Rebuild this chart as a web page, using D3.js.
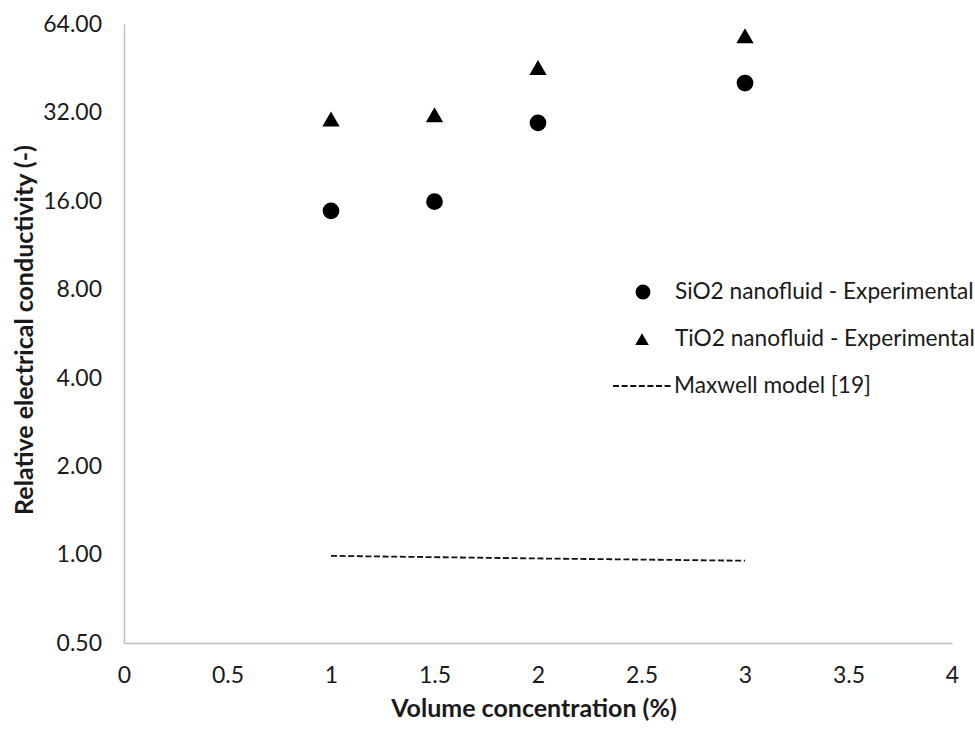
<!DOCTYPE html>
<html lang="en">
<head>
    <meta charset="UTF-8">
    <title>Relative electrical conductivity</title>
    <script src="https://cdn.jsdelivr.net/npm/d3@7/dist/d3.min.js"></script>
    <style>
        body { margin: 0; background: #fff; }
        text { font-family: Lato, "Open Sans", sans-serif; fill: #1a1a1a; }
        .tick text { font-size: 23px; }
        .title { font-size: 25px; font-weight: bold; }
        .legend text { font-size: 22.7px; }
    </style>
</head>
<body>
    <svg width="975" height="731" id="mainsvg"></svg>
    <script>
        // data
        const concentration = [1, 1.5, 2, 3];
        const sio2 = [14.8, 15.9, 29.5, 40.3];
        const tio2 = [30.4, 31.4, 45.5, 58.4];
        const maxwellX = [1, 2, 3];
        const maxwellY = [0.99, 0.97, 0.953];
        const xTicks = [0, 0.5, 1, 1.5, 2, 2.5, 3, 3.5, 4];
        const yTicks = [0.5, 1, 2, 4, 8, 16, 32, 64];
        const legendLabels = ['SiO2 nanofluid - Experimental', 'TiO2 nanofluid - Experimental', 'Maxwell model [19]'];

        const svg = d3.select('#mainsvg');
        const margin = { top: 24, right: 23, bottom: 88, left: 124 };
        const width = +svg.attr('width');
        const height = +svg.attr('height');

        const xScale = d3.scaleLinear().domain([0, 4]).range([margin.left, width - margin.right]);
        const yScale = d3.scaleLog().base(2).domain([0.5, 64]).range([height - margin.bottom, margin.top]);

        // axes
        const xAxis = d3.axisBottom(xScale).tickValues(xTicks).tickSize(0).tickPadding(24)
            .tickFormat(d => d3.format('')(d));
        const yAxis = d3.axisLeft(yScale).tickValues(yTicks).tickSize(0).tickPadding(22)
            .tickFormat(d3.format('.2f'));

        svg.append('g').attr('id', 'xaxis')
            .attr('transform', `translate(0, ${yScale(0.5)})`)
            .call(xAxis)
            .call(g => g.select('.domain').attr('stroke', '#bfbfbf').attr('stroke-width', 1.5));
        svg.append('g').attr('id', 'yaxis')
            .attr('transform', `translate(${xScale(0)}, 0)`)
            .call(yAxis)
            .call(g => g.select('.domain').attr('stroke', '#bfbfbf').attr('stroke-width', 1.5));
        d3.selectAll('.tick text').attr('fill', '#1a1a1a');

        // axis titles
        svg.append('text').attr('class', 'title')
            .attr('x', 534).attr('y', 717)
            .attr('text-anchor', 'middle')
            .text('Volume concentration (%)');
        svg.append('text').attr('class', 'title')
            .attr('transform', 'translate(33, 330) rotate(-90)')
            .attr('text-anchor', 'middle')
            .text('Relative electrical conductivity (-)');

        // Maxwell model line
        const line = d3.line().x(d => xScale(d[0])).y(d => yScale(d[1]));
        svg.append('path')
            .datum(d3.zip(maxwellX, maxwellY))
            .attr('d', line)
            .attr('fill', 'none')
            .attr('stroke', '#111')
            .attr('stroke-width', 1.8)
            .attr('stroke-dasharray', '6,2.6');

        // markers
        const circleSym = d3.symbol().type(d3.symbolCircle).size(220);
        const triSym = d3.symbol().type(d3.symbolTriangle).size(130);

        svg.selectAll('.sio2').data(d3.zip(concentration, sio2)).join('path')
            .attr('class', 'sio2')
            .attr('d', circleSym)
            .attr('transform', d => `translate(${xScale(d[0])}, ${yScale(d[1])})`)
            .attr('fill', '#000');

        svg.selectAll('.tio2').data(d3.zip(concentration, tio2)).join('path')
            .attr('class', 'tio2')
            .attr('d', triSym)
            .attr('transform', d => `translate(${xScale(d[0])}, ${yScale(d[1]) + 2.5})`)
            .attr('fill', '#000');

        // legend
        const lg = svg.append('g').attr('class', 'legend');
        lg.append('path').attr('d', d3.symbol().type(d3.symbolCircle).size(175))
            .attr('transform', 'translate(643, 292)').attr('fill', '#000');
        lg.append('path').attr('d', d3.symbol().type(d3.symbolTriangle).size(80))
            .attr('transform', 'translate(642, 341)').attr('fill', '#000');
        lg.append('line')
            .attr('x1', 613).attr('x2', 671).attr('y1', 386).attr('y2', 386)
            .attr('stroke', '#111').attr('stroke-width', 1.8).attr('stroke-dasharray', '6,2.6');

        lg.selectAll('.legtext').data(legendLabels).join('text')
            .attr('class', 'legtext')
            .attr('x', (d, i) => i === 2 ? 674 : 675)
            .attr('y', (d, i) => 292 + i * 47)
            .attr('dy', '0.32em')
            .text(d => d);
    </script>
</body>
</html>
